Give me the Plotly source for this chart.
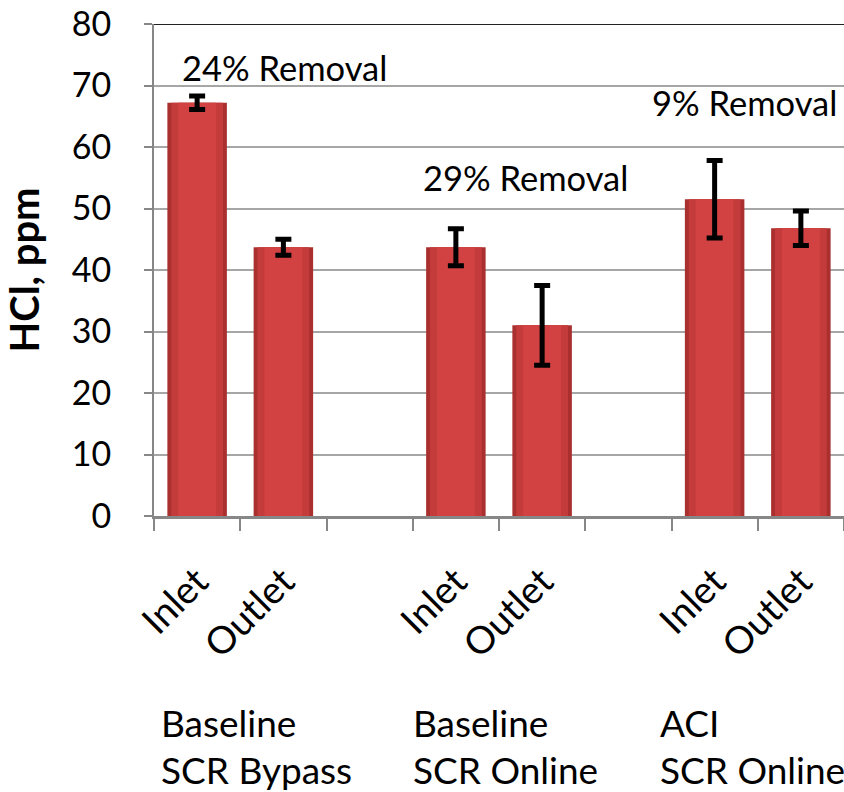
import plotly.graph_objects as go

# ---- data ----
positions = [0, 1, 3, 4, 6, 7]
labels = ["Inlet", "Outlet", "Inlet", "Outlet", "Inlet", "Outlet"]
hcl_ppm = [67.2, 43.7, 43.7, 31.0, 51.5, 46.8]
hcl_err = [1.1, 1.3, 3.0, 6.5, 6.3, 2.8]
group_line1 = ["Baseline", "Baseline", "ACI"]
group_line2 = ["SCR Bypass", "SCR Online", "SCR Online"]
group_x = [-0.44, 2.48, 5.34]
removal_text = ["24% Removal", "29% Removal", "9% Removal"]
removal_x = [-0.2, 2.6, 5.25]
removal_y = [73.0, 55.1, 67.2]

FONT = "Lato"

fig = go.Figure()
# layered bars to mimic the shaded (bevelled) Excel look
fig.add_trace(go.Bar(x=positions, y=hcl_ppm, width=0.69,
                     marker=dict(color="#A9302F", line=dict(width=0)),
                     hoverinfo="skip", showlegend=False))
fig.add_trace(go.Bar(x=positions, y=hcl_ppm, width=0.6,
                     marker=dict(color="#C33B3A", line=dict(width=0)),
                     hoverinfo="skip", showlegend=False))
fig.add_trace(go.Bar(x=positions, y=hcl_ppm, width=0.44,
                     marker=dict(color="#D24242", line=dict(width=0)),
                     error_y=dict(type="data", array=hcl_err, visible=True,
                                  color="black", thickness=5, width=8),
                     showlegend=False))

fig.update_layout(
    width=844, height=792,
    margin=dict(l=154, r=0, t=24, b=276),
    paper_bgcolor="white", plot_bgcolor="white",
    barmode="overlay",
    font=dict(family=FONT, size=34, color="black"),
    xaxis=dict(
        range=[-0.5, 7.5], tickmode="array", tickvals=positions, ticktext=labels,
        tickangle=-45, ticks="", showgrid=False, zeroline=False,
        showline=True, linecolor="#878787", linewidth=3,
        tickfont=dict(family=FONT, size=38), ticklabelstandoff=25,
        automargin=False,
        minor=dict(tickmode="linear", tick0=-0.5, dtick=1, ticks="outside",
                   ticklen=12, tickcolor="#878787", tickwidth=2, showgrid=False),
    ),
    yaxis=dict(
        range=[0, 80], tickmode="linear", tick0=0, dtick=10,
        ticks="outside", ticklen=8, tickcolor="#878787", tickwidth=2,
        showgrid=True, gridcolor="#A6A6A6", gridwidth=2, zeroline=False,
        showline=True, linecolor="#878787", linewidth=2,
        tickfont=dict(family=FONT, size=34), automargin=False,
        ticklabelstandoff=26, ticklabeloverflow="allow",
        title=dict(text="<b>HCl, ppm</b>", font=dict(family=FONT, size=40), standoff=24),
    ),
)

# dark top border at y=80
fig.add_shape(type="line", xref="paper", yref="y", x0=0, x1=1, y0=80, y1=80,
              line=dict(color="#222222", width=2))

for t, x, y in zip(removal_text, removal_x, removal_y):
    fig.add_annotation(text=t, x=x, y=y, xref="x", yref="y", showarrow=False,
                       xanchor="left", yanchor="middle",
                       font=dict(family=FONT, size=34.5))

for l1, l2, x in zip(group_line1, group_line2, group_x):
    fig.add_annotation(text=l1, x=x, y=-0.4187, xref="x", yref="paper", showarrow=False,
                       xanchor="left", yanchor="middle", font=dict(family=FONT, size=37))
    fig.add_annotation(text=l2, x=x, y=-0.515, xref="x", yref="paper", showarrow=False,
                       xanchor="left", yanchor="middle", font=dict(family=FONT, size=37))

# remove the default page margin so the figure sits at the window's top-left corner
fig.write_html("out.html", config={"displayModeBar": False},
               post_script="document.body.style.margin='0';document.body.style.overflow='hidden';")
